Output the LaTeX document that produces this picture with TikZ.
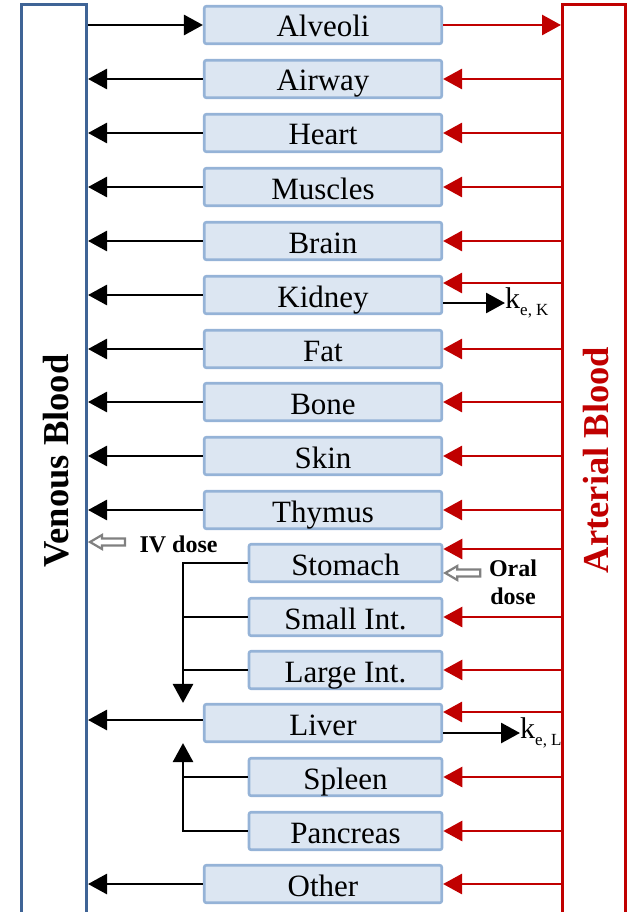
\documentclass[tikz,border=0pt]{standalone}
\usepackage{fontspec}
\setmainfont{Liberation Serif}
\usetikzlibrary{arrows.meta}
\definecolor{boxfill}{HTML}{DCE6F2}
\definecolor{boxline}{HTML}{95B3D7}
\definecolor{venblue}{HTML}{3F6496}
\definecolor{artred}{HTML}{C00000}
\definecolor{dosegray}{HTML}{808080}
\begin{document}
\begin{tikzpicture}[x=1pt,y=-1pt,
  organ/.style={draw=boxline, fill=boxfill, line width=2.6pt, rounded corners=2pt,
    minimum height=37.5pt, inner sep=0pt, text height=26pt, text depth=2pt,
    font=\fontsize{31}{31}\selectfont},
  wide/.style={organ, minimum width=237.5pt},
  narrow/.style={organ, minimum width=193pt},
  vtip/.style={-{Triangle[length=19pt,width=20pt]}},
  ven/.style={vtip, line width=2.8pt, black},
  art/.style={vtip, line width=2.8pt, artred},
  plain/.style={line width=2.8pt, black},
  blood/.style={line width=3pt, minimum width=65pt, minimum height=920pt, inner sep=0pt},
  bloodtext/.style={rotate=90, font=\bfseries\fontsize{36.5}{36.5}\selectfont},
  dose/.style={font=\bfseries\fontsize{24}{28}\selectfont, align=center},
  dosearrow/.style={draw=dosegray, fill=white, line width=2.2pt},
  ke/.style={anchor=west, inner sep=0pt, font=\fontsize{30}{30}\selectfont}
]
\useasboundingbox (0,0) rectangle (630,912);
\clip (0,0) rectangle (630,912);

% blood compartments
\node[blood, draw=venblue] (ven) at (54,465) {};
\node[blood, draw=artred, minimum width=63pt] (art) at (594,465) {};
\node[bloodtext] (ventext) at (56,461) {Venous Blood};
\node[bloodtext, text=artred] (arttext) at (596,460) {Arterial Blood};

% organs
\node[wide] (alv) at (323,25) {Alveoli};
\node[wide] (air) at (323,79) {Airway};
\node[wide] (hea) at (323,133) {Heart};
\node[wide] (mus) at (323,187) {Muscles};
\node[wide] (bra) at (323,241) {Brain};
\node[wide] (kid) at (323,295) {Kidney};
\node[wide] (fat) at (323,349) {Fat};
\node[wide] (bon) at (323,402) {Bone};
\node[wide] (ski) at (323,456) {Skin};
\node[wide] (thy) at (323,510) {Thymus};
\node[narrow] (sto) at (345.5,563) {Stomach};
\node[narrow] (sin) at (345.5,617) {Small Int.};
\node[narrow] (lin) at (345.5,670) {Large Int.};
\node[wide] (liv) at (323,723) {Liver};
\node[narrow] (spl) at (345.5,777) {Spleen};
\node[narrow] (pan) at (345.5,831) {Pancreas};
\node[wide] (oth) at (323,884) {Other};

% alveoli exchange
\draw[ven] (ven.east |- alv.west) -- (alv.west);
\draw[art] (alv.east) -- (alv.east -| art.west);

% organs draining to venous blood
\foreach \o in {air,hea,mus,bra,kid,fat,bon,ski,thy,oth}{
  \draw[ven] (\o.west) -- (\o.west -| ven.east);
}
\draw[ven] ([yshift=3pt]liv.west) -- ([yshift=3pt]liv.west -| ven.east);

% arterial supply
\foreach \o in {air,hea,mus,bra,fat,bon,ski,thy,sin,lin,spl,pan,oth}{
  \draw[art] (\o.east -| art.west) -- (\o.east);
}
\draw[art] ([yshift=12pt]kid.east -| art.west) -- ([yshift=12pt]kid.east);
\draw[art] ([yshift=14pt]sto.east -| art.west) -- ([yshift=14pt]sto.east);
\draw[art] ([yshift=11pt]liv.east -| art.west) -- ([yshift=11pt]liv.east);

% elimination
\coordinate (kidout) at ([yshift=-8pt]kid.east);
\node[ke] (keK) at (505,303) {k\raisebox{-7pt}{\fontsize{17}{17}\selectfont e, K}};
\draw[ven] (kidout) -- (kidout -| keK.west);
\coordinate (livout) at ([yshift=-10pt]liv.east);
\node[ke] (keL) at (520,733) {k\raisebox{-7pt}{\fontsize{17}{17}\selectfont e, L}};
\draw[ven] (livout) -- (livout -| keL.west);

% portal circulation
\coordinate (gx) at (183,0);
\draw[ven] (sto.west) -| (liv.north -| gx);
\draw[plain] (sin.west) -- (sin.west -| gx);
\draw[plain] (lin.west) -- (lin.west -| gx);
\draw[ven] (pan.west) -| (liv.south -| gx);
\draw[plain] (spl.west) -- (spl.west -| gx);

% doses
\draw[dosearrow] ([xshift=2pt]ven.east |- 0,542) -- ++(12,-7) -- ++(0,3.5) -- ++(23,0) -- ++(0,7) -- ++(-23,0) -- ++(0,3.5) -- cycle;
\node[dose, anchor=west] (iv) at (136,544) {IV dose};
\draw[dosearrow] ([yshift=-10pt, xshift=2pt]sto.east) -- ++(12,-7) -- ++(0,3.5) -- ++(23,0) -- ++(0,7) -- ++(-23,0) -- ++(0,3.5) -- cycle;
\node[dose] (oral) at (513,582) {Oral\\dose};
\end{tikzpicture}
\end{document}
